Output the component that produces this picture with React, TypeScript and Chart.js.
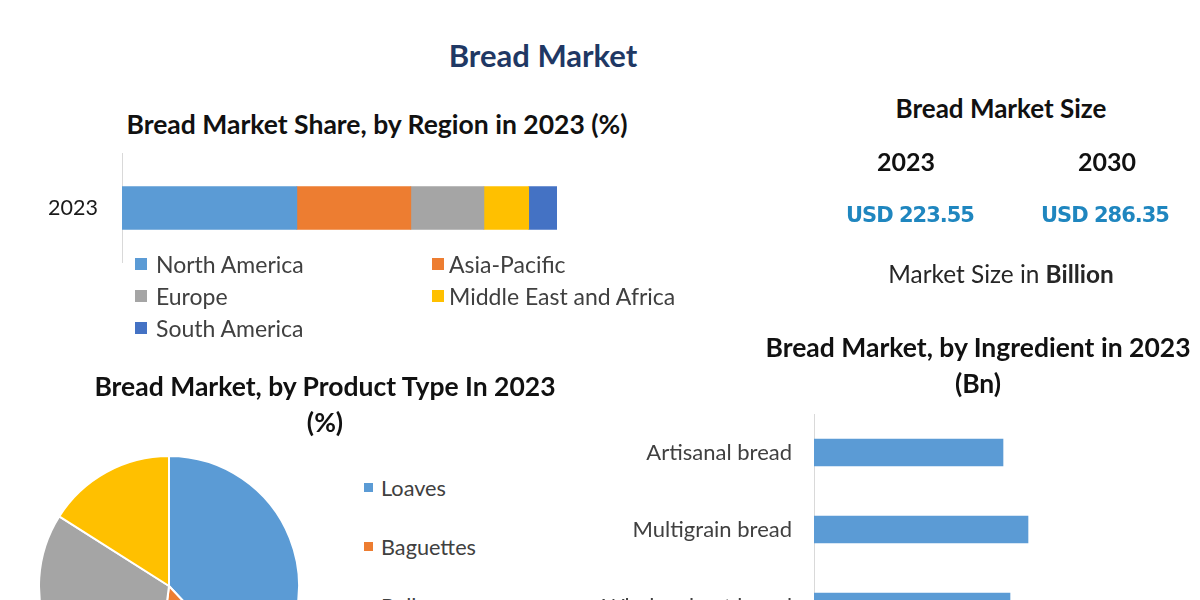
import React, { useEffect, useRef } from "react";
import { Chart, registerables } from "chart.js";

Chart.register(...registerables);

// ---------- data ----------
const pageTitle = "Bread Market";

const regionTitle = "Bread Market Share, by Region in 2023 (%)";
const regionYears = ["2023"];
const regionNames = ["North America", "Asia-Pacific", "Europe", "Middle East and Africa", "South America"];
const regionShares = [40.2, 26.2, 16.8, 10.3, 6.5];
const regionColors = ["#5b9bd5", "#ed7d31", "#a5a5a5", "#ffc000", "#4472c4"];

const sizeTitle = "Bread Market Size";
const sizeYears = ["2023", "2030"];
const sizeValues = ["USD 223.55", "USD 286.35"];

const productTitle = ["Bread Market, by Product Type In 2023", "(%)"];
const productTypes = ["Loaves", "Baguettes", "Rolls", "Others"];
const productShares = [38, 14, 32, 16];
const productColors = ["#5b9bd5", "#ed7d31", "#a5a5a5", "#ffc000"];

const ingredientTitle = ["Bread Market, by Ingredient in 2023", "(Bn)"];
const ingredients = ["Artisanal bread", "Multigrain bread", "Whole wheat bread"];
const ingredientValues = [75.6, 85.6, 78.4];
const ingredientColor = "#5b9bd5";

const FONT = "Lato, 'Open Sans', sans-serif";

function Text(props: { x: number; y: number; size: number; bold?: boolean; color?: string; children: any; spacing?: number; family?: string }) {
  const lh = Math.round(props.size * 1.4);
  return (
    <div
      style={{
        position: "absolute",
        left: props.x - 400,
        top: props.y - lh / 2,
        width: 800,
        height: lh,
        lineHeight: lh + "px",
        textAlign: "center",
        fontFamily: props.family || FONT,
        fontSize: props.size,
        fontWeight: props.bold ? 700 : 400,
        color: props.color || "#111",
        letterSpacing: props.spacing ? props.spacing + "px" : undefined,
        whiteSpace: "nowrap",
      }}
    >
      {props.children}
    </div>
  );
}

export default function App() {
  const regionRef = useRef<HTMLCanvasElement>(null);
  const pieRef = useRef<HTMLCanvasElement>(null);
  const ingRef = useRef<HTMLCanvasElement>(null);

  useEffect(() => {
    Chart.defaults.font.family = FONT;
    const charts: Chart[] = [];

    charts.push(
      new Chart(regionRef.current!, {
        type: "bar",
        data: {
          labels: regionYears,
          datasets: regionNames.map((n, i) => ({
            label: n,
            data: [regionShares[i]],
            backgroundColor: regionColors[i],
            borderWidth: 0,
            barThickness: 43,
          })),
        },
        options: {
          indexAxis: "y",
          animation: false,
          responsive: false,
          maintainAspectRatio: false,
          layout: { padding: 0 },
          plugins: { legend: { display: false }, tooltip: { enabled: false } },
          scales: {
            x: { stacked: true, display: false, min: 0, max: 100 },
            y: {
              stacked: true,
              grid: { display: false, drawTicks: false },
              border: { display: true, color: "#d9d9d9", width: 1 },
              ticks: { padding: 24, color: "#1a1a1a", font: { size: 21.5, family: FONT } },
              afterFit: (s: any) => {
                s.width = 100;
                s.paddingTop = 0;
                s.paddingBottom = 0;
              },
            },
          },
        },
      })
    );

    charts.push(
      new Chart(pieRef.current!, {
        type: "pie",
        data: {
          labels: productTypes,
          datasets: [
            {
              data: productShares,
              backgroundColor: productColors,
              borderColor: "#ffffff",
              borderWidth: 2,
            },
          ],
        },
        options: {
          animation: false,
          responsive: false,
          maintainAspectRatio: false,
          layout: { padding: 0 },
          plugins: { legend: { display: false }, tooltip: { enabled: false } },
        },
      })
    );

    charts.push(
      new Chart(ingRef.current!, {
        type: "bar",
        data: {
          labels: ingredients,
          datasets: [
            {
              label: "2023",
              data: ingredientValues,
              backgroundColor: ingredientColor,
              borderWidth: 0,
              barThickness: 27,
            },
          ],
        },
        options: {
          indexAxis: "y",
          animation: false,
          responsive: false,
          maintainAspectRatio: false,
          layout: { padding: 0 },
          plugins: { legend: { display: false }, tooltip: { enabled: false } },
          scales: {
            x: { display: false, min: 0, max: 100 },
            y: {
              grid: { display: false, drawTicks: false },
              border: { display: true, color: "#d9d9d9", width: 1 },
              ticks: { padding: 22, color: "#404040", font: { size: 22, family: FONT } },
              afterFit: (s: any) => {
                s.width = 240;
                s.paddingTop = 0;
                s.paddingBottom = 0;
              },
            },
          },
        },
      })
    );

    return () => charts.forEach((c) => c.destroy());
  }, []);

  return (
    <div
      style={{
        position: "fixed",
        left: 0,
        top: 0,
        width: 1200,
        height: 600,
        overflow: "hidden",
        background: "#ffffff",
        fontFamily: FONT,
      }}
    >
      <Text x={543} y={55} size={31} bold color="#1f3864">
        {pageTitle}
      </Text>

      {/* Region stacked bar */}
      <Text x={377} y={124} size={26.5} bold>
        {regionTitle}
      </Text>
      <canvas
        ref={regionRef}
        width={535}
        height={110}
        style={{ position: "absolute", left: 22, top: 153, width: 535, height: 110 }}
      />
      <div
        style={{
          position: "absolute",
          left: 135,
          top: 248,
          display: "grid",
          gridTemplateColumns: "297px 280px",
          gridAutoRows: "32px",
          fontFamily: FONT,
          fontSize: 23,
          color: "#404040",
        }}
      >
        {regionNames.map((n, i) => (
          <div key={n} style={{ display: "flex", alignItems: "center", whiteSpace: "nowrap" }}>
            <span style={{ display: "inline-block", width: 12, height: 12, background: regionColors[i], marginRight: i % 2 === 0 ? 9 : 5 }} />
            {n}
          </div>
        ))}
      </div>

      {/* Market size */}
      <Text x={1001} y={108} size={26} bold>
        {sizeTitle}
      </Text>
      {sizeYears.map((y, i) => (
        <Text key={y} x={i === 0 ? 906 : 1107} y={161} size={25} bold>
          {y}
        </Text>
      ))}
      {sizeValues.map((v, i) => (
        <Text key={v} x={i === 0 ? 910 : 1105} y={215} size={21} bold color="#1f86bf" spacing={-1} family="'DejaVu Sans', sans-serif">
          {v}
        </Text>
      ))}
      <Text x={1001} y={274} size={24.4} color="#262626">
        Market Size in <b>Billion</b>
      </Text>

      {/* Ingredient bars */}
      <Text x={978} y={347} size={26.5} bold>
        {ingredientTitle[0]}
      </Text>
      <Text x={978} y={383} size={26.5} bold>
        {ingredientTitle[1]}
      </Text>
      <canvas
        ref={ingRef}
        width={490}
        height={231}
        style={{ position: "absolute", left: 574, top: 414, width: 490, height: 231 }}
      />

      {/* Product pie */}
      <Text x={325} y={386} size={26.5} bold>
        {productTitle[0]}
      </Text>
      <Text x={325} y={422} size={26.5} bold>
        {productTitle[1]}
      </Text>
      <canvas
        ref={pieRef}
        width={262}
        height={262}
        style={{ position: "absolute", left: 38, top: 455, width: 262, height: 262 }}
      />
      <div
        style={{
          position: "absolute",
          left: 364,
          top: 458,
          fontFamily: FONT,
          fontSize: 21.7,
          color: "#404040",
        }}
      >
        {productTypes.map((n, i) => (
          <div key={n} style={{ display: "flex", alignItems: "center", height: 59, whiteSpace: "nowrap" }}>
            <span style={{ display: "inline-block", width: 9, height: 9, background: productColors[i], marginRight: 8 }} />
            {n}
          </div>
        ))}
      </div>
    </div>
  );
}
